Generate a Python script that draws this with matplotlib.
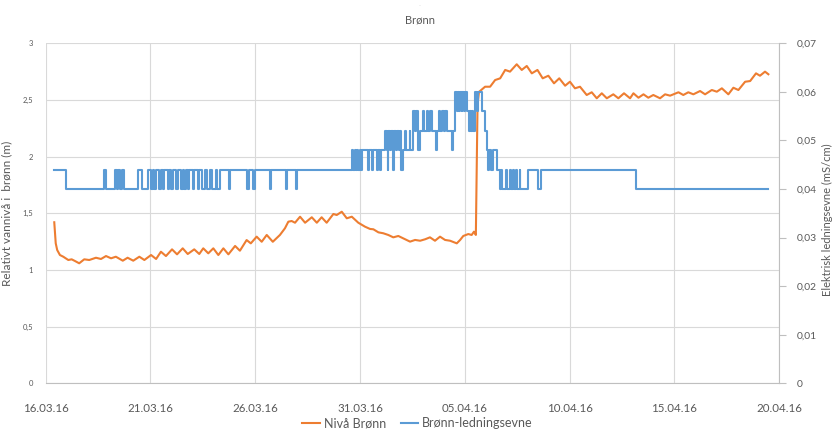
import numpy as np
import pandas as pd
import matplotlib
matplotlib.use('Agg')
import matplotlib.pyplot as plt
import matplotlib.dates as mdates
from matplotlib.ticker import FuncFormatter, MultipleLocator

plt.rcParams['font.family'] = ['Lato', 'DejaVu Sans']

start = pd.Timestamp('2016-03-16')

# Nivå Brønn (m), tid i døgn etter 16.03.16 00:00
t_niva = [0.41, 0.48, 0.55, 0.68, 0.84, 1.08, 1.24, 1.40, 1.60, 1.84, 2.08, 2.40,
          2.64, 2.88, 3.12, 3.35, 3.68, 3.91, 4.18, 4.47, 4.71, 5.03, 5.27, 5.50,
          5.74, 6.03, 6.27, 6.54, 6.78, 7.09, 7.33, 7.52, 7.76, 8.00, 8.24, 8.48,
          8.72, 9.04, 9.27, 9.59, 9.79, 10.07, 10.31, 10.55, 10.84, 11.18, 11.42, 11.58,
          11.74, 11.90, 12.14, 12.38, 12.70, 12.94, 13.17, 13.41, 13.73, 13.89, 14.13, 14.37,
          14.61, 14.92, 15.24, 15.48, 15.64, 15.88, 16.11, 16.35, 16.59, 16.83, 17.07, 17.39,
          17.63, 17.87, 18.11, 18.34, 18.58, 18.82, 19.06, 19.30, 19.62, 19.78, 19.93, 20.17,
          20.33, 20.44, 20.53, 20.61, 20.68, 20.97, 21.21, 21.45, 21.69, 21.93, 22.16, 22.48,
          22.72, 22.96, 23.20, 23.47, 23.72, 23.99, 24.26, 24.51, 24.79, 25.02, 25.26, 25.50,
          25.82, 26.06, 26.30, 26.54, 26.78, 27.09, 27.33, 27.60, 27.89, 28.05, 28.29, 28.53,
          28.76, 29.00, 29.32, 29.56, 29.80, 30.20, 30.43, 30.67, 30.91, 31.23, 31.47, 31.79,
          32.03, 32.27, 32.58, 32.82, 33.06, 33.38, 33.62, 33.90, 34.09, 34.33, 34.49]
niva = [1.421, 1.235, 1.176, 1.132, 1.117, 1.088, 1.094, 1.079, 1.059, 1.094, 1.088, 1.108,
        1.097, 1.123, 1.103, 1.117, 1.082, 1.108, 1.082, 1.117, 1.088, 1.132, 1.097, 1.161,
        1.123, 1.182, 1.138, 1.191, 1.141, 1.182, 1.141, 1.191, 1.147, 1.191, 1.132, 1.191,
        1.138, 1.212, 1.170, 1.264, 1.235, 1.294, 1.249, 1.309, 1.249, 1.309, 1.368, 1.426,
        1.432, 1.417, 1.470, 1.417, 1.465, 1.417, 1.465, 1.417, 1.494, 1.485, 1.514, 1.456,
        1.470, 1.417, 1.382, 1.362, 1.359, 1.332, 1.324, 1.309, 1.288, 1.300, 1.279, 1.250,
        1.265, 1.258, 1.271, 1.288, 1.258, 1.294, 1.265, 1.258, 1.235, 1.265, 1.300, 1.317,
        1.309, 1.338, 1.309, 2.456, 2.571, 2.617, 2.617, 2.676, 2.691, 2.765, 2.750, 2.815,
        2.765, 2.800, 2.735, 2.765, 2.691, 2.714, 2.647, 2.691, 2.626, 2.661, 2.603, 2.617,
        2.544, 2.568, 2.515, 2.559, 2.515, 2.550, 2.515, 2.559, 2.515, 2.559, 2.520, 2.550,
        2.520, 2.544, 2.515, 2.550, 2.538, 2.568, 2.544, 2.568, 2.550, 2.579, 2.550, 2.588,
        2.573, 2.603, 2.550, 2.608, 2.588, 2.661, 2.667, 2.735, 2.714, 2.750, 2.727]

# Brønn-ledningsevne (mS/cm), tidspunkt der verdien skifter
t_cond = [0.41, 0.99, 2.78, 2.88, 3.31, 3.40, 3.47, 3.55, 3.62, 3.74, 4.43, 4.62,
          4.87, 5.03, 5.11, 5.18, 5.26, 5.42, 5.50, 5.58, 5.66, 5.82, 5.90, 5.98,
          6.06, 6.22, 6.30, 6.46, 6.54, 6.62, 6.70, 6.78, 6.85, 7.02, 7.09, 7.26,
          7.33, 7.45, 7.60, 7.69, 7.84, 7.92, 8.13, 8.19, 8.32, 8.74, 8.80, 9.62,
          9.69, 9.91, 9.98, 10.71, 10.77, 11.47, 11.53, 11.95, 12.01, 14.61, 14.67, 14.74,
          14.79, 14.86, 14.91, 14.98, 15.03, 15.10, 15.39, 15.43, 15.55, 15.60, 15.79, 15.84,
          15.96, 16.01, 16.20, 16.27, 16.32, 16.36, 16.43, 16.49, 16.58, 16.63, 16.72, 16.77,
          16.86, 16.91, 16.98, 17.03, 17.15, 17.20, 17.37, 17.41, 17.55, 17.63, 17.68, 17.75,
          17.87, 18.01, 18.06, 18.20, 18.25, 18.34, 18.42, 18.63, 18.68, 18.77, 18.84, 18.92,
          18.99, 19.06, 19.16, 19.39, 19.45, 19.54, 19.61, 19.66, 19.73, 19.78, 19.85, 19.89,
          19.97, 20.02, 20.09, 20.18, 20.23, 20.28, 20.35, 20.40, 20.50, 20.59, 20.64, 20.82,
          20.95, 21.06, 21.11, 21.16, 21.26, 21.33, 21.53, 21.69, 21.74, 21.78, 21.98, 22.03,
          22.14, 22.19, 22.30, 22.34, 22.46, 22.50, 22.62, 22.66, 23.03, 23.51, 23.62, 28.15,
          34.49]
cond = [0.044, 0.040, 0.044, 0.040, 0.044, 0.040, 0.044, 0.040, 0.044, 0.040, 0.044, 0.040,
        0.044, 0.040, 0.044, 0.040, 0.044, 0.040, 0.044, 0.040, 0.044, 0.040, 0.044, 0.040,
        0.044, 0.040, 0.044, 0.040, 0.044, 0.040, 0.044, 0.040, 0.044, 0.040, 0.044, 0.040,
        0.044, 0.040, 0.044, 0.040, 0.044, 0.040, 0.044, 0.040, 0.044, 0.040, 0.044, 0.040,
        0.044, 0.040, 0.044, 0.040, 0.044, 0.040, 0.044, 0.040, 0.044, 0.048, 0.044, 0.048,
        0.044, 0.048, 0.044, 0.048, 0.044, 0.048, 0.044, 0.048, 0.044, 0.048, 0.044, 0.048,
        0.044, 0.048, 0.052, 0.048, 0.044, 0.052, 0.048, 0.052, 0.044, 0.052, 0.048, 0.052,
        0.048, 0.052, 0.044, 0.048, 0.052, 0.048, 0.052, 0.048, 0.056, 0.052, 0.056, 0.048,
        0.052, 0.056, 0.052, 0.056, 0.052, 0.056, 0.052, 0.048, 0.052, 0.056, 0.052, 0.056,
        0.052, 0.056, 0.052, 0.048, 0.052, 0.060, 0.056, 0.060, 0.056, 0.060, 0.056, 0.060,
        0.056, 0.060, 0.056, 0.052, 0.056, 0.052, 0.056, 0.052, 0.060, 0.056, 0.060, 0.056,
        0.052, 0.048, 0.044, 0.048, 0.044, 0.048, 0.044, 0.040, 0.044, 0.040, 0.044, 0.040,
        0.044, 0.040, 0.044, 0.040, 0.044, 0.040, 0.044, 0.040, 0.044, 0.040, 0.044, 0.040,
        0.040]

dates_niva = start + pd.to_timedelta(t_niva, unit='D')
dates_cond = start + pd.to_timedelta(t_cond, unit='D')

grey = '#595959'
gridc = '#d9d9d9'
orange = '#ED7D31'
blue = '#5B9BD5'

fig = plt.figure(figsize=(8.35, 4.34), dpi=100)
ax = fig.add_axes([0.0547, 0.1168, 0.8783, 0.7834])
ax2 = ax.twinx()

l1, = ax.plot(dates_niva, niva, color=orange, linewidth=1.5, label='Nivå Brønn')
l2, = ax2.step(dates_cond, cond, where='post', color=blue, linewidth=1.5,
               label='Brønn-ledningsevne')

ax.set_xlim(pd.Timestamp('2016-03-16'), pd.Timestamp('2016-04-20'))
ax.set_ylim(0, 3)
ax2.set_ylim(0, 0.07)

ticks = pd.date_range('2016-03-16', '2016-04-20', freq='5D')
ax.set_xticks(ticks)
ax.xaxis.set_major_formatter(mdates.DateFormatter('%d.%m.%y'))
ax.yaxis.set_major_locator(MultipleLocator(0.5))
ax2.yaxis.set_major_locator(MultipleLocator(0.01))

comma = FuncFormatter(lambda v, p: ('%g' % round(v, 3)).replace('.', ','))
ax.yaxis.set_major_formatter(comma)
ax2.yaxis.set_major_formatter(comma)

ax.grid(True, color=gridc, linewidth=0.8)
ax.set_axisbelow(True)
for s in ['top', 'left', 'right']:
    ax.spines[s].set_visible(False)
for s in ['top', 'left', 'bottom']:
    ax2.spines[s].set_visible(False)
ax.spines['bottom'].set_color('#bfbfbf')
ax2.spines['right'].set_color('#bfbfbf')

ax.tick_params(axis='y', length=0, labelsize=5.5, colors=grey, pad=9)
ax.tick_params(axis='x', length=0, labelsize=8.3, colors=grey, pad=14)
ax2.tick_params(axis='y', length=5, width=0.8, color='#bfbfbf', labelsize=7.4,
                labelcolor=grey, pad=8)

ax.set_ylabel('Relativt vannivå i  brønn (m)', fontsize=8.5, color=grey)
ax2.set_ylabel('Elektrisk ledningsevne (mS/cm)', fontsize=8, color=grey)
ax.yaxis.set_label_coords(-0.045, 0.5)
ax2.yaxis.set_label_coords(1.058, 0.48)

fig.text(0.503, 0.955, 'Brønn', ha='center', va='center', fontsize=8, color=grey)
fig.text(0.503, 0.988, '...', ha='center', va='center', fontsize=3, color='#bfbfbf')

fig.legend(handles=[l1, l2], loc='center', bbox_to_anchor=(0.5, 0.025), ncol=2,
           frameon=False, fontsize=9, labelcolor=grey, handlelength=1.4,
           handletextpad=0.3, columnspacing=1.2)

fig.savefig('out.png', dpi=100)
